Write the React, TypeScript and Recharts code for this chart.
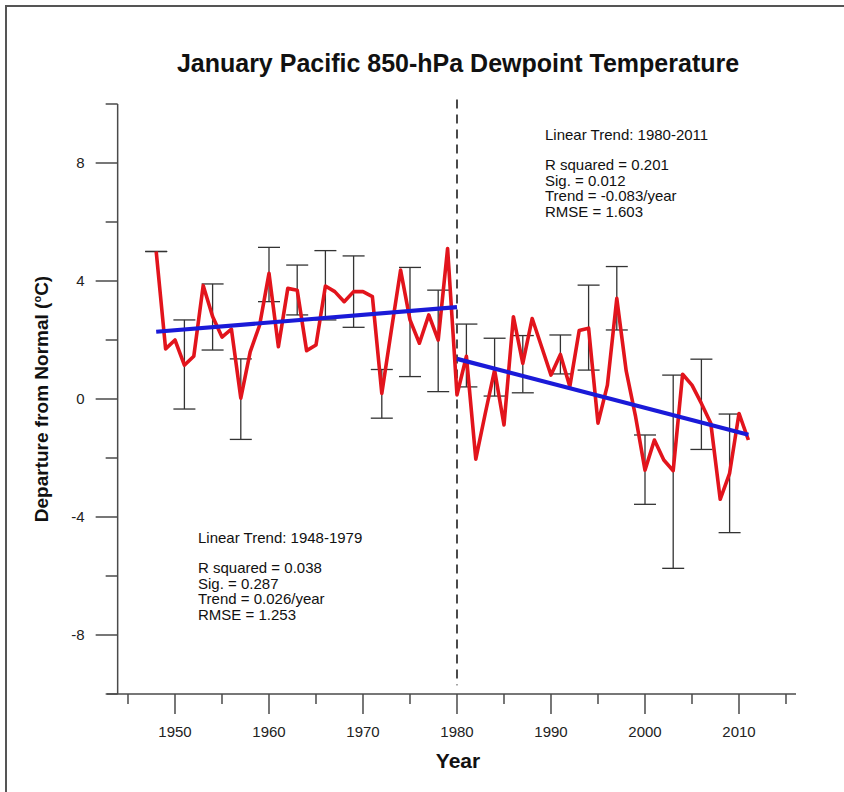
import React from 'react';
import { ComposedChart, Line, XAxis, YAxis, ReferenceLine, ErrorBar } from 'recharts';

// January mean 850-hPa dewpoint departure over the Pacific, by year
const years = [
  1948, 1949, 1950, 1951, 1952, 1953, 1954, 1955, 1956, 1957, 1958, 1959, 1960, 1961, 1962, 1963,
  1964, 1965, 1966, 1967, 1968, 1969, 1970, 1971, 1972, 1973, 1974, 1975, 1976, 1977, 1978, 1979,
  1980, 1981, 1982, 1983, 1984, 1985, 1986, 1987, 1988, 1989, 1990, 1991, 1992, 1993, 1994, 1995,
  1996, 1997, 1998, 1999, 2000, 2001, 2002, 2003, 2004, 2005, 2006, 2007, 2008, 2009, 2010, 2011,
];
const dewpoint = [
  5.0, 1.7, 2.0, 1.15, 1.45, 3.85, 2.8, 2.1, 2.37, 0.03, 1.6, 2.5, 4.26, 1.77, 3.75, 3.69,
  1.64, 1.83, 3.83, 3.64, 3.3, 3.64, 3.64, 3.47, 0.19, 2.3, 4.37, 2.68, 1.89, 2.85, 2.0, 5.1,
  0.14, 1.45, -2.04, -0.5, 0.98, -0.88, 2.79, 1.21, 2.73, 1.77, 0.81, 1.51, 0.42, 2.32, 2.4, -0.82,
  0.47, 3.41, 0.95, -0.6, -2.41, -1.39, -2.07, -2.43, 0.84, 0.47, -0.15, -0.82, -3.4, -2.52, -0.49, -1.39,
];

// Uncertainty ranges shown every few years
const errorYears = [1948, 1951, 1954, 1957, 1960, 1963, 1966, 1969, 1972, 1975, 1978, 1981, 1984, 1987, 1991, 1994, 1997, 2000, 2003, 2006, 2009];
const errorLow = [5.0, -0.34, 1.66, -1.37, 3.3, 2.85, 2.68, 2.43, -0.65, 0.76, 0.25, 0.41, 0.1, 0.21, 0.85, 0.98, 2.34, -3.57, -5.74, -1.71, -4.53];
const errorHigh = [5.0, 2.68, 3.9, 1.36, 5.14, 4.54, 5.03, 4.85, 1.0, 4.46, 3.69, 2.54, 2.06, 2.15, 2.17, 3.86, 4.49, -1.22, 0.81, 1.35, -0.51];

// Linear trends: [first year, last year, value at first year, slope per year]
const trendEarly = [1948, 1980, 2.28, 0.026];
const trendLate = [1980, 2011, 1.36, -0.083];

const statsEarly = ['R squared = 0.038', 'Sig. = 0.287', 'Trend = 0.026/year', 'RMSE = 1.253'];
const statsLate = ['R squared = 0.201', 'Sig. = 0.012', 'Trend = -0.083/year', 'RMSE = 1.603'];

const xTicks = [1945, 1950, 1955, 1960, 1965, 1970, 1975, 1980, 1985, 1990, 1995, 2000, 2005, 2010, 2015];
const yTicks = [-10, -8, -6, -4, -2, 0, 2, 4, 6, 8, 10];

const FONT = 'Arial, "Liberation Sans", Helvetica, sans-serif';
const AXIS_COLOR = '#4a4a4a';
const W = 844;
const H = 792;
const MARGIN = { top: 104, right: 48, bottom: 68, left: 47 };
const Y_AXIS_W = 60;
const X_AXIS_H = 30;
const PLOT_LEFT = MARGIN.left + Y_AXIS_W;
const PLOT_RIGHT = W - MARGIN.right;
const PLOT_BOTTOM = H - MARGIN.bottom - X_AXIS_H;
const X_MIN = 1942.766;
const X_MAX = 2016.064;
const Y_AXIS_YEAR = 1943.9;
const Y_AXIS_PX = PLOT_LEFT + ((Y_AXIS_YEAR - X_MIN) / (X_MAX - X_MIN)) * (PLOT_RIGHT - PLOT_LEFT);

const rows = years.map((year, i) => {
  const dew = dewpoint[i];
  const k = errorYears.indexOf(year);
  return {
    year,
    dew,
    err: k >= 0 ? [dew - errorLow[k], errorHigh[k] - dew] : undefined,
  };
});

const trendLine = (t: number[]) => [
  { year: t[0], trend: t[2] },
  { year: t[1], trend: t[2] + t[3] * (t[1] - t[0]) },
];

const XTick = (props: any) => {
  const { x, payload } = props;
  const v = payload.value;
  const major = v % 10 === 0;
  return (
    <g>
      <line x1={x} x2={x} y1={PLOT_BOTTOM} y2={PLOT_BOTTOM + (major ? 20 : 10)} stroke={AXIS_COLOR} strokeWidth={1.5} />
      {major && (
        <text x={x} y={PLOT_BOTTOM + 43} textAnchor="middle" fontSize={15} fill="#222" fontFamily={FONT}>
          {v}
        </text>
      )}
    </g>
  );
};

const YTick = (props: any) => {
  const { y, payload } = props;
  const v = payload.value;
  const major = v % 4 === 0 && Math.abs(v) < 10;
  return (
    <g>
      <line x1={Y_AXIS_PX - (major ? 22 : 12)} x2={Y_AXIS_PX} y1={y} y2={y} stroke={AXIS_COLOR} strokeWidth={1.5} />
      {major && (
        <text x={Y_AXIS_PX - 33} y={y + 5} textAnchor="end" fontSize={15} fill="#222" fontFamily={FONT}>
          {v}
        </text>
      )}
    </g>
  );
};

const StatBlock = ({ left, top, title, lines }: { left: number; top: number; title: string; lines: string[] }) => (
  <div style={{ position: 'absolute', left, top, fontFamily: FONT, fontSize: 15, color: '#111', lineHeight: '15.5px', whiteSpace: 'nowrap' }}>
    <div>{title}</div>
    <div style={{ height: 14.5 }} />
    {lines.map((l) => (
      <div key={l}>{l}</div>
    ))}
  </div>
);

export default function App() {
  return (
    <div style={{ position: 'absolute', left: 0, top: 0, width: W, height: H, background: '#fff', overflow: 'hidden' }}>
      <div style={{ position: 'absolute', left: 6, top: 5, width: W, height: 1.5, background: '#555' }} />
      <div style={{ position: 'absolute', left: 5, top: 5, width: 1.5, height: H, background: '#555' }} />

      <ComposedChart width={W} height={H} data={rows} margin={MARGIN} style={{ position: 'absolute', left: 0, top: 0 }}>
        <XAxis
          type="number"
          dataKey="year"
          domain={[X_MIN, X_MAX]}
          allowDataOverflow
          ticks={xTicks}
          interval={0}
          tickLine={false}
          axisLine={{ stroke: AXIS_COLOR, strokeWidth: 1.5 }}
          tick={<XTick />}
          height={X_AXIS_H}
        />
        <YAxis
          type="number"
          domain={[-10, 10]}
          allowDataOverflow
          ticks={yTicks}
          interval={0}
          axisLine={false}
          tickLine={false}
          tick={<YTick />}
          width={Y_AXIS_W}
        />
        <ReferenceLine x={Y_AXIS_YEAR} stroke={AXIS_COLOR} strokeWidth={1.5} />
        <ReferenceLine
          segment={[{ x: 1980, y: 10.15 }, { x: 1980, y: -9.7 }]}
          ifOverflow="visible"
          stroke="#111"
          strokeWidth={1.5}
          strokeDasharray="9 6"
        />
        <Line dataKey="dew" stroke="none" dot={false} isAnimationActive={false} legendType="none">
          <ErrorBar dataKey={(d: any) => d.err} width={11} stroke="#333" strokeWidth={1.3} direction="y" />
        </Line>
        <Line
          type="linear"
          dataKey="dew"
          stroke="#e2141c"
          strokeWidth={3.6}
          strokeLinejoin="round"
          dot={false}
          isAnimationActive={false}
        />
        <Line
          data={trendLine(trendEarly)}
          type="linear"
          dataKey="trend"
          stroke="#1a1ad8"
          strokeWidth={4.2}
          dot={false}
          isAnimationActive={false}
        />
        <Line
          data={trendLine(trendLate)}
          type="linear"
          dataKey="trend"
          stroke="#1a1ad8"
          strokeWidth={4.2}
          dot={false}
          isAnimationActive={false}
        />
      </ComposedChart>

      <div style={{ position: 'absolute', left: 58, top: 48, width: 800, textAlign: 'center', fontFamily: FONT, fontWeight: 'bold', fontSize: 25, lineHeight: '30px', color: '#111' }}>
        January Pacific 850-hPa Dewpoint Temperature
      </div>
      <div style={{ position: 'absolute', left: 358, top: 749, width: 200, textAlign: 'center', fontFamily: FONT, fontWeight: 'bold', fontSize: 21, lineHeight: '24px', color: '#111' }}>
        Year
      </div>
      <div
        style={{
          position: 'absolute',
          left: 42 - 160,
          top: 399 - 12,
          width: 320,
          height: 24,
          lineHeight: '24px',
          textAlign: 'center',
          transform: 'rotate(-90deg)',
          fontFamily: FONT,
          fontWeight: 'bold',
          fontSize: 19,
          color: '#111',
          whiteSpace: 'nowrap',
        }}
      >
        Departure from Normal (<sup style={{ fontSize: 11, verticalAlign: 'super', lineHeight: 0 }}>o</sup>C)
      </div>

      <StatBlock left={545} top={127} title="Linear Trend: 1980-2011" lines={statsLate} />
      <StatBlock left={198} top={530} title="Linear Trend: 1948-1979" lines={statsEarly} />
    </div>
  );
}
